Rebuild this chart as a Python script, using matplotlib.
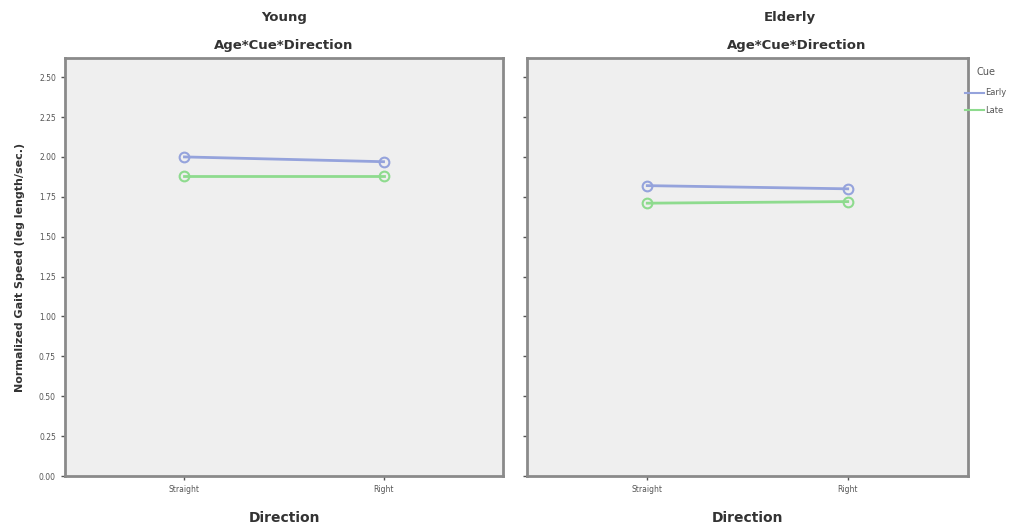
import matplotlib.pyplot as plt

directions = ["Straight", "Right"]
panels = ["Young", "Elderly"]
early = {"Young": [2.00, 1.97], "Elderly": [1.82, 1.80]}
late = {"Young": [1.88, 1.88], "Elderly": [1.71, 1.72]}
yticks = [0.00, 0.25, 0.50, 0.75, 1.00, 1.25, 1.50, 1.75, 2.00, 2.25, 2.50]

blue = "#95a3dc"
green = "#8edb8e"
edge = "#8a8a8a"

fig = plt.figure(figsize=(10.19, 5.27), dpi=100)
W, H = 1019, 527
boxes = [(65, 58, 503, 476), (527, 58, 968, 476)]

axes = []
for (x0, y0, x1, y1), name in zip(boxes, panels):
    ax = fig.add_axes([x0 / W, 1 - y1 / H, (x1 - x0) / W, (y1 - y0) / H])
    ax.set_facecolor("#efefef")
    x = range(len(directions))
    ax.plot(x, early[name], color=blue, lw=2, marker="o", ms=7,
            mfc="none", mec=blue, mew=1.5, label="Early")
    ax.plot(x, late[name], color=green, lw=2, marker="o", ms=7,
            mfc="none", mec=green, mew=1.5, label="Late")
    ax.set_xlim(-0.6, 1.6)
    ax.set_ylim(0, 2.62)
    ax.set_yticks(yticks)
    ax.set_xticks(list(x))
    ax.set_xticklabels(directions)
    for s in ax.spines.values():
        s.set_color(edge)
        s.set_linewidth(2)
    ax.tick_params(colors="#555555", labelsize=5.5, length=3, width=1)
    ax.set_xlabel("Direction", fontsize=10, fontweight="bold", color="#333333",
                  labelpad=12)
    axes.append(ax)

axes[0].set_yticklabels([f"{v:.2f}" for v in yticks])
axes[1].set_yticklabels([])
axes[0].set_ylabel("Normalized Gait Speed (leg length/sec.)", fontsize=8,
                   fontweight="bold", color="#333333", labelpad=10)

# panel titles
fig.text(284 / W, 1 - 17 / H, "Young", ha="center", va="center",
         fontsize=9.5, fontweight="bold", color="#333333")
fig.text(284 / W, 1 - 46 / H, "Age*Cue*Direction", ha="center", va="center",
         fontsize=9.5, fontweight="bold", color="#333333")
fig.text(790 / W, 1 - 17 / H, "Elderly", ha="center", va="center",
         fontsize=9.5, fontweight="bold", color="#333333")
fig.text(797 / W, 1 - 46 / H, "Age*Cue*Direction", ha="center", va="center",
         fontsize=9.5, fontweight="bold", color="#333333")

# legend
handles, labels = axes[1].get_legend_handles_labels()
leg = fig.legend(handles, labels, title="Cue", loc="upper left",
                 bbox_to_anchor=(962 / W, 1 - 64 / H), frameon=False,
                 fontsize=6, title_fontsize=7, handlelength=2.2,
                 handletextpad=0.2, labelspacing=1.0, borderaxespad=0)
leg._legend_box.sep = 8
for line in leg.get_lines():
    line.set_marker("")
    line.set_linewidth(1.5)
for t in leg.get_texts():
    t.set_color("#555555")
leg.get_title().set_color("#555555")

fig.savefig("out.png", dpi=100)
